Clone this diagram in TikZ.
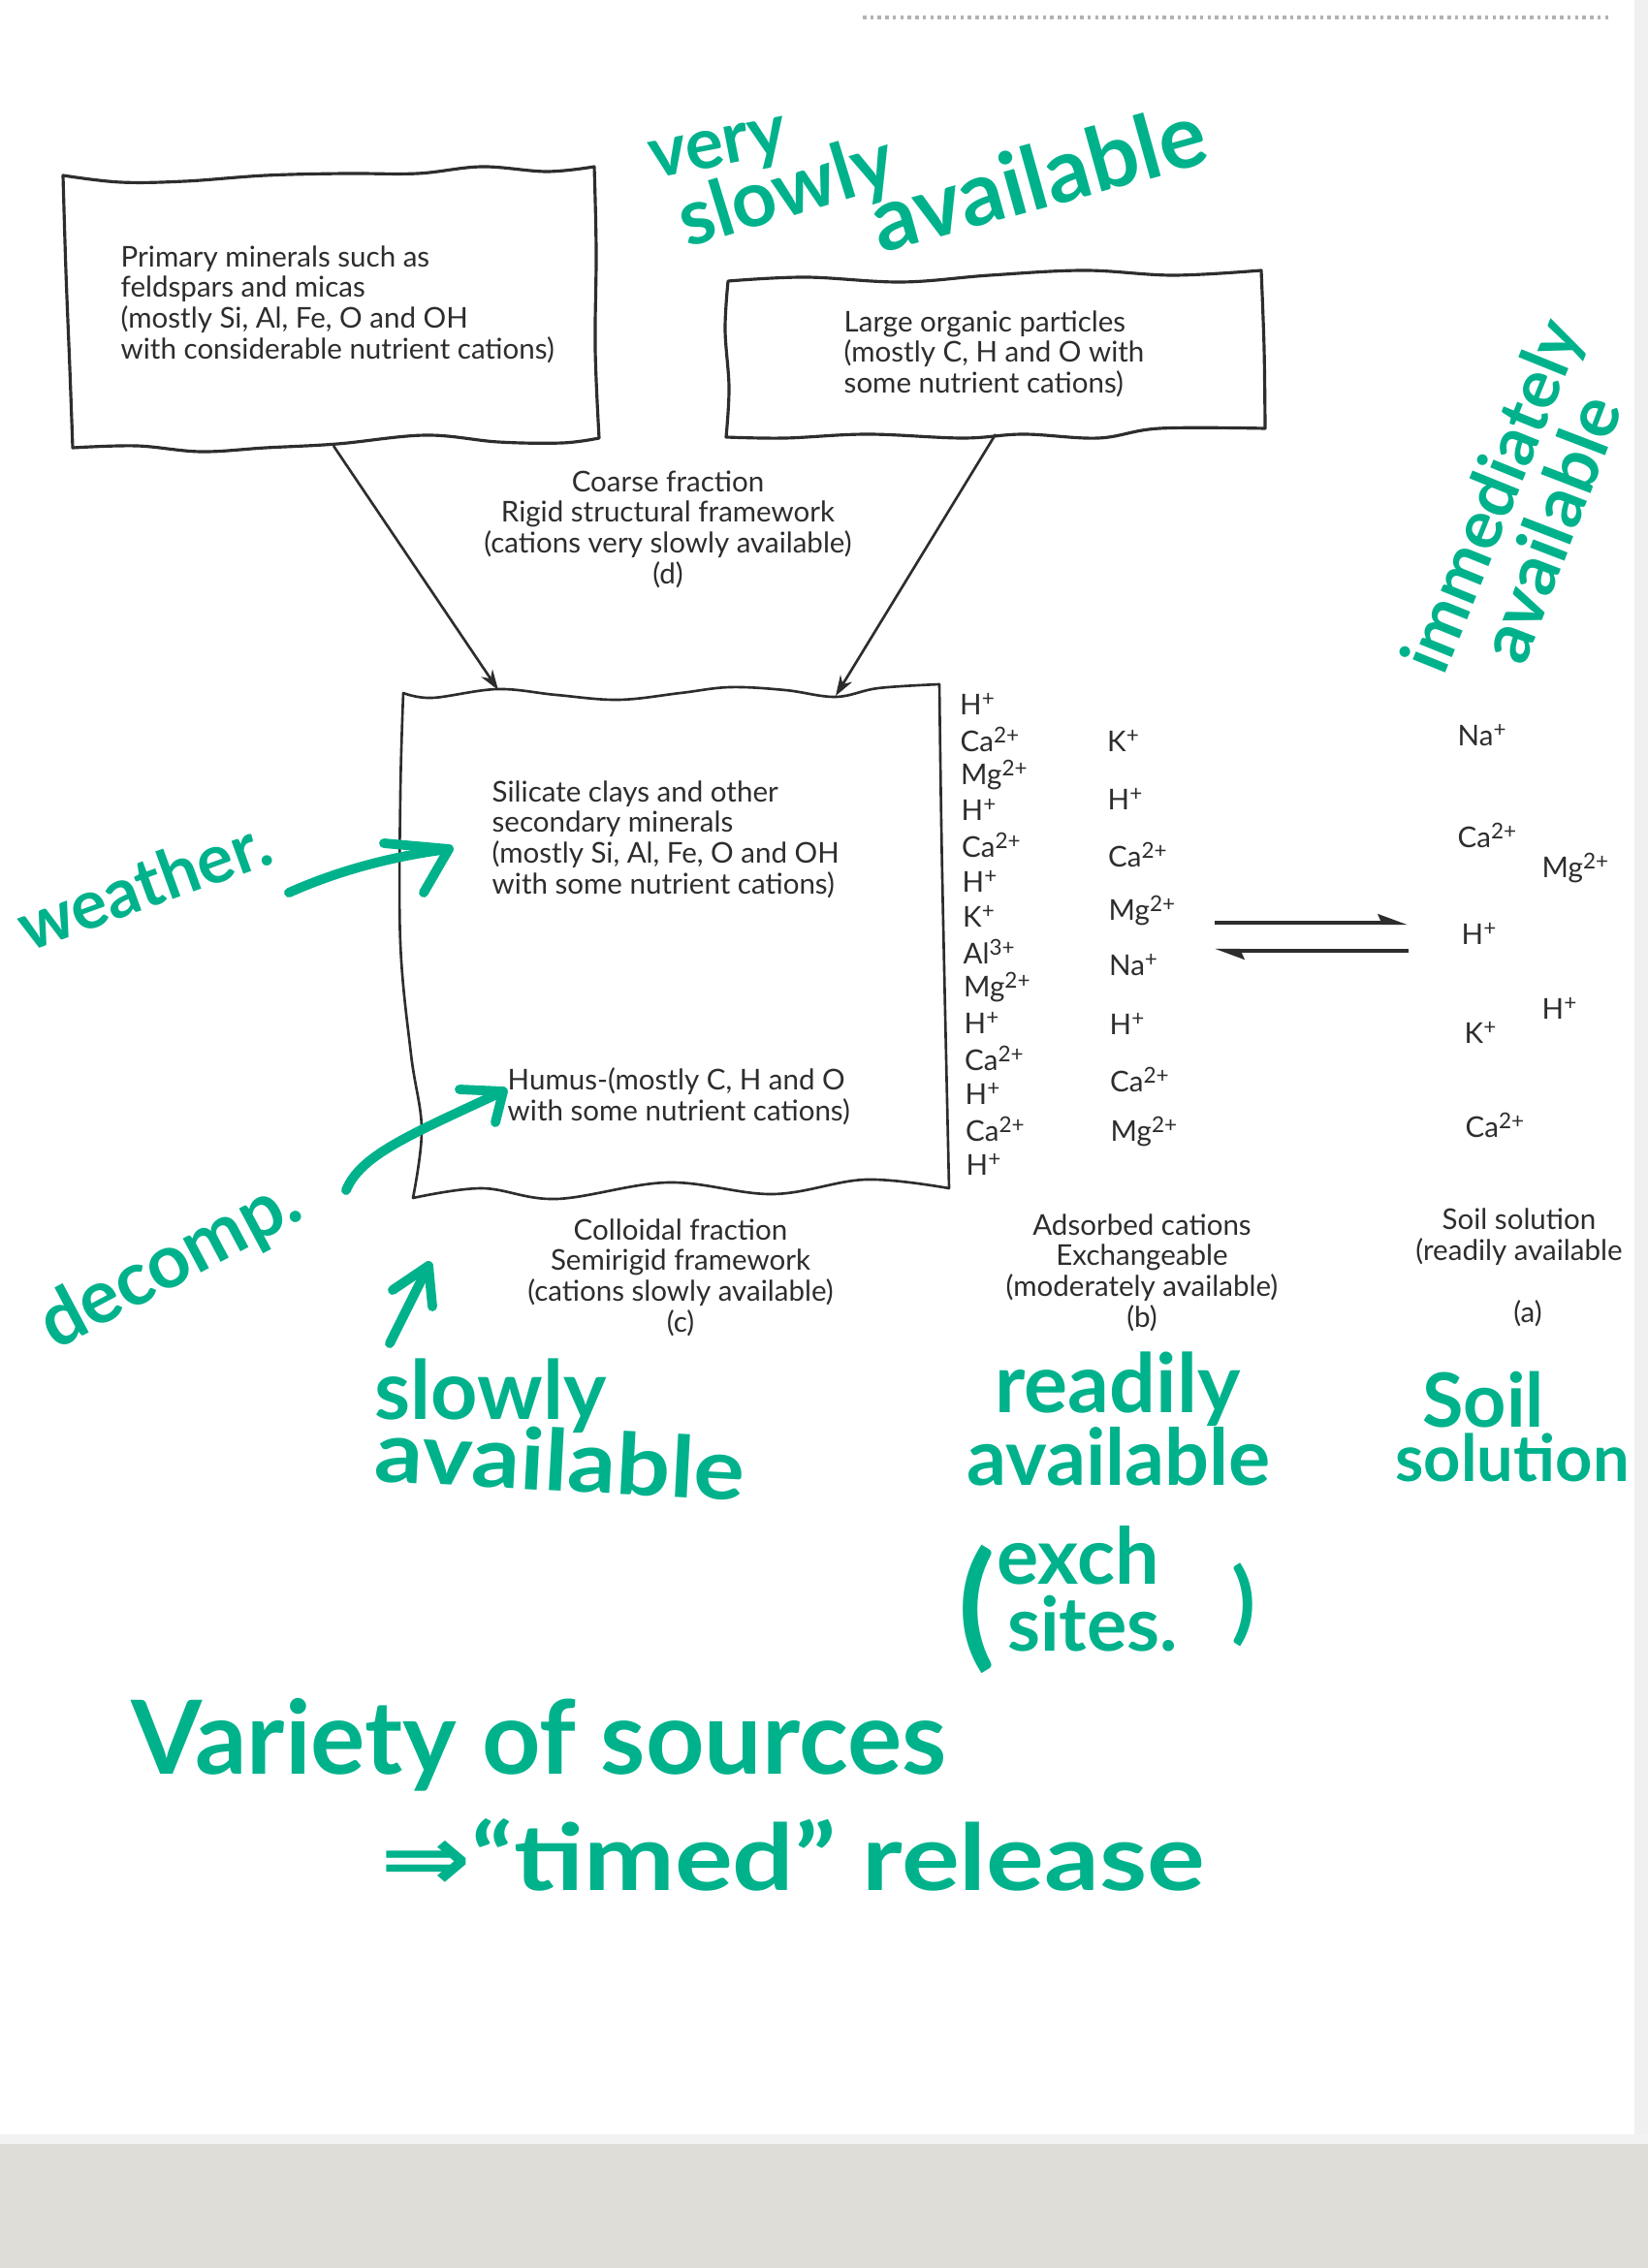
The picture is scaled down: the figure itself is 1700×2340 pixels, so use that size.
\documentclass[tikz,border=0pt]{standalone}
\usepackage{fontspec}
\setmainfont{Lato}
\newfontfamily\symfont{DejaVu Sans}
\usetikzlibrary{arrows.meta}
\definecolor{ink}{RGB}{45,45,45}
\definecolor{handg}{RGB}{0,178,140}
\definecolor{scanbg}{RGB}{222,221,216}
\newcommand\hfs[1]{\fontsize{#1}{#1}\selectfont\bfseries}
\newcommand\prtfont{\fontsize{8.4}{9}\selectfont}
\newcommand\chg[1]{\raisebox{0.6ex}{\fontsize{6.4}{6.4}\selectfont #1}}
\begin{document}
\begin{tikzpicture}[x=0.1mm,y=-0.1mm,
  printed/.style={text=ink, font=\prtfont, inner sep=0pt},
  ion/.style={printed, anchor=west},
  hand/.style={text=handg, inner sep=0pt},
  boxline/.style={draw=ink, line width=0.9pt, line join=round},
  link/.style={draw=ink, line width=0.75pt, -{Stealth[length=6pt,width=4pt]}},
  eqarrow/.style={draw=ink, line width=1.2pt, -{Stealth[harpoon,length=7pt,width=5pt,inset=1pt]}},
  marker/.style={draw=handg, line width=2.8pt, line cap=round, line join=round}]
\useasboundingbox (0,0) rectangle (1700,2340);
\fill[white] (0,0) rectangle (1700,2340);
\fill[gray!12] (1686,0) rectangle (1700,2202);
\fill[scanbg] (0,2202) rectangle (1700,2340);
\fill[gray!10] (0,2202) rectangle (1700,2212);
\draw[gray!60, line width=1.3pt, dash pattern=on 1pt off 1.2pt] (890,18) -- (1663,18);

% ---- wavy boxes ----
\draw[boxline] plot[smooth,tension=0.6] coordinates {(65,181) (124,188) (191,187) (274,181) (356,179) (431,179) (497,172) (564,177) (613,172)}
  -- plot[smooth,tension=0.6] coordinates {(613,172) (615,260) (614,360) (618,452)}
  -- plot[smooth,tension=0.6] coordinates {(618,452) (580,457) (514,456) (439,449) (348,458) (274,462) (207,466) (141,460) (75,462)}
  -- plot[smooth,tension=0.6] coordinates {(75,462) (72,380) (68,280) (65,181)} -- cycle;
\draw[boxline] plot[smooth,tension=0.6] coordinates {(751,290) (831,286) (930,291) (1021,284) (1119,279) (1210,284) (1301,279)}
  -- plot[smooth,tension=0.6] coordinates {(1301,279) (1304,360) (1305,442)}
  -- plot[smooth,tension=0.6] coordinates {(1305,442) (1196,442) (1133,452) (1056,448) (993,452) (895,448) (810,452) (749,451)}
  -- plot[smooth,tension=0.6] coordinates {(749,451) (752,400) (748,340) (751,290)} -- cycle;
\draw[boxline, line width=0.75pt] plot[smooth,tension=0.6] coordinates {(416,715) (446,720) (513,711) (574,717) (638,722) (702,715) (753,709) (810,712) (862,719) (906,710) (969,706)}
  -- plot[smooth,tension=0.6] coordinates {(969,706) (971,850) (974,1000) (979,1226)}
  -- plot[smooth,tension=0.6] coordinates {(979,1226) (893,1217) (797,1232) (689,1220) (574,1237) (497,1226) (426,1236)}
  -- plot[smooth,tension=0.6] coordinates {(426,1236) (435,1165) (424,1088) (413,973) (413,820) (416,715)} -- cycle;

% ---- printed texts ----
\node[printed, align=left, anchor=west] (prim) at (124,314) {Primary minerals such as\\feldspars and micas\\(mostly Si, Al, Fe, O and OH\\with considerable nutrient cations)};
\node[printed, align=left, anchor=west] (org) at (870,365) {Large organic particles\\(mostly C, H and O with\\some nutrient cations)};
\node[printed, align=center] (coarse) at (689,546) {Coarse fraction\\Rigid structural framework\\(cations very slowly available)\\(d)};
\node[printed, align=left, anchor=west] (sil) at (507,866) {Silicate clays and other\\secondary minerals\\(mostly Si, Al, Fe, O and OH\\with some nutrient cations)};
\node[printed, align=left, anchor=west] (hum) at (523,1131) {Humus-(mostly C, H and O\\with some nutrient cations)};
\node[printed, align=center] (coll) at (702,1318) {Colloidal fraction\\Semirigid framework\\(cations slowly available)\\(c)};
\node[printed, align=center] (ads) at (1178,1313) {Adsorbed cations\\Exchangeable\\(moderately available)\\(b)};
\node[printed, align=center] (soil) at (1567,1276) {Soil solution\\(readily available};
\node[printed] (solA) at (1576,1355) {(a)};

% ---- ion columns ----
\foreach \t [count=\i] in {{H\chg{+}},{Ca\chg{2+}},{Mg\chg{2+}},{H\chg{+}},{Ca\chg{2+}},{H\chg{+}},{K\chg{+}},{Al\chg{3+}},{Mg\chg{2+}},{H\chg{+}},{Ca\chg{2+}},{H\chg{+}},{Ca\chg{2+}},{H\chg{+}}}
  \node[ion] (ia\i) at ({989+0.5*\i},{726+36.6*(\i-1)}) {\t};
\foreach \t/\yy [count=\i] in {{K\chg{+}}/764,{H\chg{+}}/824,{Ca\chg{2+}}/882,{Mg\chg{2+}}/940,{Na\chg{+}}/996,{H\chg{+}}/1056,{Ca\chg{2+}}/1114,{Mg\chg{2+}}/1168}
  \node[ion] (ib\i) at ({1141+0.5*\i},\yy) {\t};
\node[ion] (ic1) at (1503,759) {Na\chg{+}};
\node[ion] (ic2) at (1503,862) {Ca\chg{2+}};
\node[ion] (ic3) at (1590,896) {Mg\chg{2+}};
\node[ion] (ic4) at (1507,963) {H\chg{+}};
\node[ion] (ic5) at (1590,1040) {H\chg{+}};
\node[ion] (ic6) at (1510,1065) {K\chg{+}};
\node[ion] (ic7) at (1511,1161) {Ca\chg{2+}};

% ---- connectors ----
\coordinate (Aout) at (344,460);
\coordinate (Bout) at (1027,448);
\coordinate (Cin1) at (514,712);
\coordinate (Cin2) at (862,718);
\draw[link] (Aout) -- (Cin1);
\draw[link] (Bout) -- (Cin2);
\coordinate (eqL1) at (1253,952);
\coordinate (eqR1) at (1452,952);
\coordinate (eqL2) at (1253,981);
\coordinate (eqR2) at (1453,981);
\draw[eqarrow] (eqL1) -- (eqR1);
\draw[eqarrow] (eqR2) -- (eqL2);

% ---- handwritten notes ----
\node[hand, rotate=11] (hv1) at (742,158) {\hfs{21}very};
\node[hand, rotate=17] (hv2) at (812,200) {\hfs{23}slowly};
\node[hand, rotate=15.5] (hv3) at (1070,182) {\hfs{26}available};
\node[hand, rotate=68] (him1) at (1543,513) {\hfs{20}immediately};
\node[hand, rotate=69] (him2) at (1598,545) {\hfs{21}available};
\node[hand, rotate=20] (hw) at (148,912) {\hfs{20}weather.};
\node[hand, rotate=28] (hd) at (176,1305) {\hfs{22}decomp.};
\node[hand] (hs1) at (506,1440) {\hfs{24}slowly};
\node[hand, rotate=-3, xscale=1.12] (hs2) at (578,1506) {\hfs{25}available};
\node[hand] (hr1) at (1153,1433) {\hfs{24}readily};
\node[hand] (hr2) at (1154,1503) {\hfs{23}available};
\node[hand] (hp1) at (1008,1660) {\hfs{40}(};
\node[hand] (he1) at (1112,1605) {\hfs{23}exch};
\node[hand] (he2) at (1127,1675) {\hfs{22}sites.};
\node[hand] (hp2) at (1283,1656) {\hfs{26})};
\node[hand] (hso1) at (1530,1444) {\hfs{22}Soil};
\node[hand] (hso2) at (1560,1504) {\hfs{19}solution};
\node[hand] (hvar) at (556,1800) {\hfs{30}Variety of sources};
\node[hand, xscale=1.18] (htim) at (818,1914) {\hfs{27}{\symfont ⇒}“timed” release};

% green arrows
\coordinate (wtail) at (298,921);
\coordinate (wtip) at (463,876);
\draw[marker] (wtail) .. controls (345,900) and (400,884) .. (wtip);
\draw[marker] (396,870) -- (wtip) -- (437,921);
\coordinate (dtail) at (357,1228);
\coordinate (dtip) at (519,1126);
\draw[marker] (dtail) .. controls (372,1192) and (420,1172) .. (dtip);
\draw[marker] (474,1124) -- (dtip) -- (511,1158);
\coordinate (stail) at (402,1386);
\coordinate (stip) at (442,1306);
\draw[marker] (stail) -- (stip);
\draw[marker] (405,1331) -- (stip) -- (446,1348);
\end{tikzpicture}
\end{document}
